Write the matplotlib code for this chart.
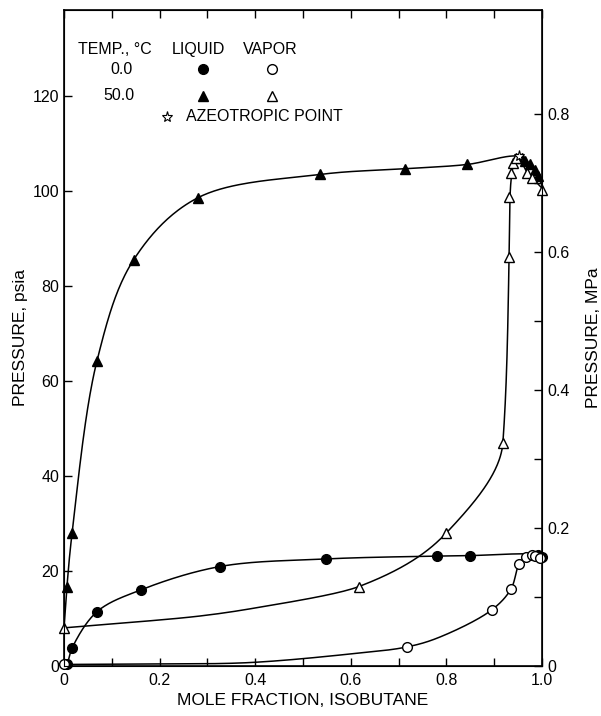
import matplotlib
matplotlib.use("Agg")
import matplotlib.pyplot as plt
import numpy as np

plt.rcParams['font.family'] = ['Liberation Sans', 'DejaVu Sans']

PSIA_TO_MPA = 0.006895

# markers (mole fraction isobutane, psia)
LIQ0_X = [0.006, 0.017, 0.069, 0.161, 0.326, 0.548, 0.780, 0.849, 0.992, 1.000]
LIQ0_P = [0.4, 3.8, 11.4, 16.0, 20.9, 22.5, 23.1, 23.2, 23.3, 22.9]
VAP0_X = [0.000, 0.718, 0.895, 0.935, 0.952, 0.966, 0.979, 0.985, 0.996]
VAP0_P = [0.3, 4.0, 11.8, 16.2, 21.5, 22.9, 23.4, 23.2, 22.8]
LIQ50_X = [0.006, 0.017, 0.069, 0.146, 0.280, 0.536, 0.713, 0.843, 0.958, 0.964, 0.975, 0.985, 0.992]
LIQ50_P = [16.5, 28.0, 64.2, 85.5, 98.5, 103.4, 104.6, 105.5, 106.9, 106.3, 105.5, 104.4, 103.0]
VAP50_X = [0.000, 0.617, 0.800, 0.918, 0.931, 0.931, 0.935, 0.939, 0.945, 0.969, 0.979, 1.000]
VAP50_P = [8.0, 16.7, 28.0, 47.0, 86.0, 98.7, 103.8, 105.9, 106.8, 103.8, 102.7, 100.2]
AZEO_X = [0.952]
AZEO_P = [107.3]

# smooth curve traces
LIQ0_CX = [0.0, 0.006, 0.017, 0.069, 0.161, 0.326, 0.548, 0.780, 0.849, 0.980, 1.0]
LIQ0_CP = [0.0, 0.4, 3.8, 11.4, 16.0, 20.9, 22.5, 23.1, 23.2, 23.5, 23.0]
VAP0_CX = [0.0, 0.2, 0.389, 0.598, 0.718, 0.787, 0.895, 0.935, 0.952, 0.966, 0.979, 1.0]
VAP0_CP = [0.3, 0.4, 0.7, 2.5, 4.0, 6.1, 11.8, 16.2, 21.5, 22.9, 23.4, 23.0]
LIQ50_CX = [0.0, 0.006, 0.017, 0.069, 0.146, 0.280, 0.536, 0.713, 0.843, 0.952, 0.975, 0.992, 1.0]
LIQ50_CP = [8.0, 16.5, 28.0, 64.2, 85.5, 98.5, 103.4, 104.6, 105.5, 107.2, 105.5, 103.0, 101.0]
# 50 C vapor: rising branch (x as a function of p) and falling branch past the azeotrope
VAP50_RISE_X = [0.0, 0.285, 0.389, 0.617, 0.800, 0.918, 0.931, 0.933, 0.938, 0.952]
VAP50_RISE_P = [8.0, 10.5, 12.0, 16.7, 28.0, 47.0, 86.0, 98.7, 104.5, 107.2]
VAP50_FALL_X = [0.952, 0.969, 0.979, 1.0]
VAP50_FALL_P = [107.2, 103.8, 102.7, 100.5]


def smooth(xs, ys, n=40):
    # centripetal catmull-rom, in roughly pixel-scaled space
    sx, sy = 478.0, 4.75
    P = np.column_stack([np.asarray(xs) * sx, np.asarray(ys) * sy])
    P = np.vstack([2 * P[0] - P[1], P, 2 * P[-1] - P[-2]])
    out = []
    for i in range(1, len(P) - 2):
        p0, p1, p2, p3 = P[i - 1], P[i], P[i + 1], P[i + 2]
        t0 = 0.0
        t1 = t0 + max(np.linalg.norm(p1 - p0), 1e-6) ** 0.5
        t2 = t1 + max(np.linalg.norm(p2 - p1), 1e-6) ** 0.5
        t3 = t2 + max(np.linalg.norm(p3 - p2), 1e-6) ** 0.5
        t = np.linspace(t1, t2, n)[:, None]
        a1 = (t1 - t) / (t1 - t0) * p0 + (t - t0) / (t1 - t0) * p1
        a2 = (t2 - t) / (t2 - t1) * p1 + (t - t1) / (t2 - t1) * p2
        a3 = (t3 - t) / (t3 - t2) * p2 + (t - t2) / (t3 - t2) * p3
        b1 = (t2 - t) / (t2 - t0) * a1 + (t - t0) / (t2 - t0) * a2
        b2 = (t3 - t) / (t3 - t1) * a2 + (t - t1) / (t3 - t1) * a3
        c = (t2 - t) / (t2 - t1) * b1 + (t - t1) / (t2 - t1) * b2
        out.append(c)
    C = np.vstack(out)
    return C[:, 0] / sx, C[:, 1] / sy


def pchip(xk, yk, n=400):
    # monotone cubic (Fritsch-Carlson), y as a function of x
    xk = np.asarray(xk, float)
    yk = np.asarray(yk, float)
    h = np.diff(xk)
    d = np.diff(yk) / h
    m = np.zeros_like(xk)
    for i in range(1, len(xk) - 1):
        if d[i - 1] * d[i] > 0:
            w1 = 2 * h[i] + h[i - 1]
            w2 = h[i] + 2 * h[i - 1]
            m[i] = (w1 + w2) / (w1 / d[i - 1] + w2 / d[i])
    m[0] = d[0]
    m[-1] = d[-1]
    xs = np.linspace(xk[0], xk[-1], n)
    idx = np.clip(np.searchsorted(xk, xs) - 1, 0, len(h) - 1)
    t = (xs - xk[idx]) / h[idx]
    h00 = 2 * t**3 - 3 * t**2 + 1
    h10 = t**3 - 2 * t**2 + t
    h01 = -2 * t**3 + 3 * t**2
    h11 = t**3 - t**2
    ys = h00 * yk[idx] + h10 * h[idx] * m[idx] + h01 * yk[idx + 1] + h11 * h[idx] * m[idx + 1]
    return xs, ys


fig = plt.figure(figsize=(6.01, 7.16), dpi=100)
ax = fig.add_axes([0.1065, 0.070, 0.7955, 0.916])

for cx, cp in ((LIQ0_CX, LIQ0_CP), (VAP0_CX, VAP0_CP), (LIQ50_CX, LIQ50_CP), (VAP50_FALL_X, VAP50_FALL_P)):
    sx_, sp_ = smooth(cx, cp)
    ax.plot(sx_, sp_, color='k', linewidth=1.1, zorder=2)
rp, rx = pchip(VAP50_RISE_P, VAP50_RISE_X)
ax.plot(rx, rp, color='k', linewidth=1.1, zorder=2)

ax.plot(LIQ0_X, LIQ0_P, 'o', color='k', markersize=7, linestyle='none', zorder=3, clip_on=False)
ax.plot(VAP0_X, VAP0_P, 'o', markerfacecolor='white', markeredgecolor='k', markeredgewidth=1.0,
        markersize=7, linestyle='none', zorder=3, clip_on=False)
ax.plot(LIQ50_X, LIQ50_P, '^', color='k', markersize=7, linestyle='none', zorder=3, clip_on=False)
ax.plot(VAP50_X, VAP50_P, '^', markerfacecolor='white', markeredgecolor='k', markeredgewidth=1.0,
        markersize=7, linestyle='none', zorder=4, clip_on=False)
ax.plot(AZEO_X, AZEO_P, '*', markerfacecolor='white', markeredgecolor='k', markeredgewidth=0.8,
        markersize=8, linestyle='none', zorder=5, clip_on=False)

ymax = 138
ax.set_xlim(0, 1.0)
ax.set_ylim(0, ymax)
ax.set_xticks(np.arange(0, 1.01, 0.1))
ax.set_xticklabels(['0', '', '0.2', '', '0.4', '', '0.6', '', '0.8', '', '1.0'])
ax.set_yticks(np.arange(0, 121, 20))
ax.tick_params(axis='both', direction='in', length=6, width=1.0, labelsize=11.5, top=True)
ax.tick_params(axis='x', pad=5)
for s in ax.spines.values():
    s.set_linewidth(1.2)

ax2 = ax.twinx()
ax2.set_ylim(0, ymax * PSIA_TO_MPA)
ax2.set_yticks(np.arange(0, 0.81, 0.1))
ax2.set_yticklabels(['0', '', '0.2', '', '0.4', '', '0.6', '', '0.8'])
ax2.tick_params(axis='y', direction='in', length=6, width=1.0, labelsize=11.5)

ax.set_xlabel('MOLE FRACTION, ISOBUTANE', fontsize=12.5, labelpad=4)
ax.set_ylabel('PRESSURE, psia', fontsize=12.5, labelpad=3)
ax2.set_ylabel('PRESSURE, MPa', fontsize=12.5, labelpad=12)

# legend block drawn as text
fs = 11.5
ax.text(0.029, 129.7, 'TEMP., °C', fontsize=fs, va='center', ha='left')
ax.text(0.226, 129.7, 'LIQUID', fontsize=fs, va='center', ha='left')
ax.text(0.374, 129.7, 'VAPOR', fontsize=fs, va='center', ha='left')
ax.text(0.121, 125.5, '0.0', fontsize=fs, va='center', ha='center')
ax.text(0.115, 120.0, '50.0', fontsize=fs, va='center', ha='center')
ax.plot([0.291], [125.5], 'o', color='k', markersize=7)
ax.plot([0.435], [125.5], 'o', markerfacecolor='white', markeredgecolor='k', markersize=7)
ax.plot([0.291], [120.0], '^', color='k', markersize=7)
ax.plot([0.435], [120.0], '^', markerfacecolor='white', markeredgecolor='k', markersize=7)
ax.plot([0.215], [115.5], '*', markerfacecolor='white', markeredgecolor='k', markeredgewidth=0.8, markersize=8)
ax.text(0.255, 115.5, 'AZEOTROPIC POINT', fontsize=fs, va='center', ha='left')

fig.savefig('out.png', dpi=100)
